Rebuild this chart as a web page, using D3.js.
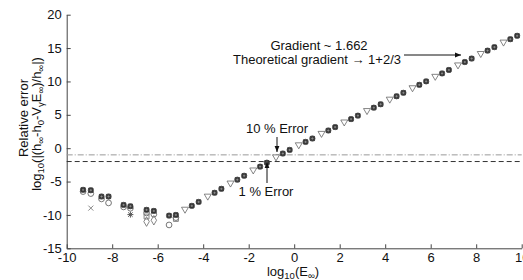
<!DOCTYPE html>
<html><head><meta charset="utf-8">
<script src="https://cdn.jsdelivr.net/npm/d3@7"></script>
<style>
html,body{margin:0;padding:0;background:#fff;}
svg{display:block;font-family:"Liberation Sans",Arial,sans-serif;}
</style></head>
<body><svg id="c" width="523" height="280"></svg>
<script>
// ---- data ----
const xTicks = [-10,-8,-6,-4,-2,0,2,4,6,8,10];
const yTicks = [-15,-10,-5,0,5,10,15,20];
// open down-triangles along the fitted line
const triX = [-4.8,-3.8,-2.8,-1.8,-0.8,0.2,1.2,2.2,3.2,4.2,5.2,6.2,7.2,8.2,9.2];
const triY = [-9.22,-7.26,-5.30,-3.34,-1.38,0.43,2.14,3.85,5.56,7.27,8.98,10.69,12.40,14.11,15.82];
// dark overlapping markers along the line
const darkX = [-4.5,-4.2,-3.5,-3.2,-2.5,-2.2,-1.5,-1.2,-0.5,-0.2,0.5,0.8,1.5,1.8,2.5,2.8,3.5,3.8,4.5,4.8,5.5,5.8,6.5,6.8,7.5,7.8,8.5,8.8,9.5,9.8];
const darkY = [-8.64,-8.05,-6.68,-6.09,-4.72,-4.13,-2.76,-2.17,-0.80,-0.26,0.94,1.45,2.65,3.16,4.36,4.88,6.07,6.58,7.78,8.30,9.49,10.01,11.20,11.72,12.91,13.43,14.62,15.14,16.33,16.84];
// low-energy cluster
const lowX = [-9.28,-8.94,-8.47,-8.16,-7.5,-7.2,-6.49,-6.17,-5.5,-5.2];
const lowDarkY = [-6.24,-6.3,-7.24,-7.24,-8.5,-8.7,-9.24,-9.4,-10.1,-10.0];
const lowCircleY = [-6.5,-6.8,-7.6,-8.2,-8.8,-9.0,-9.7,-9.9,-11.5,-10.4];
const squareX = [-6.49,-5.2];
const squareY = [-10.24,-10.6];
const diamondX = [-6.49,-6.17];
const diamondY = [-11.0,-10.8];
const crossX = [-8.94];
const crossY = [-8.98];
const starX = [-7.2];
const starY = [-9.95];
const hLines = [-1,-2];

// ---- layout ----
const svg = d3.select("#c");
const x = d3.scaleLinear().domain([-10,10]).range([66.7,521.7]);
const y = d3.scaleLinear().domain([-15,20]).range([248.3,14.7]);
const axisCol = "#444";
const fmt = d => String(d);
const FS = "13px";

// axes
const gx = svg.append("g").attr("transform","translate(0,"+y(-15)+")")
  .call(d3.axisBottom(x).tickValues(xTicks).tickFormat(fmt).tickSizeInner(-4).tickSizeOuter(0).tickPadding(4));
const gy = svg.append("g").attr("transform","translate("+x(-10)+",0)")
  .call(d3.axisLeft(y).tickValues(yTicks).tickFormat(fmt).tickSizeInner(-4).tickSizeOuter(0).tickPadding(5));
[gx,gy].forEach(g=>{
  g.selectAll("path").attr("stroke",axisCol);
  g.selectAll("line").attr("stroke",axisCol);
  g.selectAll("text").attr("fill","#111").style("font-size",FS).style("font-family","Liberation Sans, Arial, sans-serif");
});

// reference lines
svg.append("line").attr("x1",x(-10)).attr("x2",x(10)).attr("y1",y(hLines[0])).attr("y2",y(hLines[0]))
  .attr("stroke","#999").attr("stroke-width",1).attr("stroke-dasharray","6,2,1,2");
svg.append("line").attr("x1",x(-10)).attr("x2",x(10)).attr("y1",y(hLines[1])).attr("y2",y(hLines[1]))
  .attr("stroke","#333").attr("stroke-width",1).attr("stroke-dasharray","5,3");

const sym = (type,size)=>d3.symbol().type(type).size(size)();
const triDown = "M-3.5,-2.5L3.5,-2.5L0,3.5Z";

// low cluster open markers
svg.append("g").selectAll("path").data(d3.zip(lowX,lowCircleY)).join("path")
  .attr("transform",d=>`translate(${x(d[0])},${y(d[1])})`).attr("d",sym(d3.symbolCircle,26))
  .attr("fill","none").attr("stroke","#666").attr("stroke-width",0.9);
svg.append("g").selectAll("path").data(d3.zip(squareX,squareY)).join("path")
  .attr("transform",d=>`translate(${x(d[0])},${y(d[1])})`).attr("d",sym(d3.symbolSquare,24))
  .attr("fill","none").attr("stroke","#777").attr("stroke-width",0.9);
svg.append("g").selectAll("path").data(d3.zip(diamondX,diamondY)).join("path")
  .attr("transform",d=>`translate(${x(d[0])},${y(d[1])})`).attr("d",sym(d3.symbolDiamond,26))
  .attr("fill","none").attr("stroke","#777").attr("stroke-width",0.9);
svg.append("g").selectAll("path").data(d3.zip(crossX,crossY)).join("path")
  .attr("transform",d=>`translate(${x(d[0])},${y(d[1])})`).attr("d","M-2.5,-2.5L2.5,2.5M-2.5,2.5L2.5,-2.5")
  .attr("fill","none").attr("stroke","#888");
svg.append("g").selectAll("path").data(d3.zip(starX,starY)).join("path")
  .attr("transform",d=>`translate(${x(d[0])},${y(d[1])})`).attr("d","M-3,0L3,0M0,-3L0,3M-2.2,-2.2L2.2,2.2M-2.2,2.2L2.2,-2.2")
  .attr("fill","none").attr("stroke","#555");

// dark blobs (overlapping series)
function dark(g,pts){
  const s = g.selectAll("g").data(pts).join("g").attr("transform",d=>`translate(${x(d[0])},${y(d[1])})`);
  s.append("path").attr("d",sym(d3.symbolSquare,18)).attr("fill","#3a3a3a").attr("stroke","#222").attr("stroke-width",0.8);
  s.append("path").attr("d",sym(d3.symbolCircle,22)).attr("fill","none").attr("stroke","#444").attr("stroke-width",0.8);
  s.append("path").attr("d","M-1.2,0L1.2,0M0,-1.2L0,1.2").attr("stroke","#999").attr("stroke-width",0.7);
}
dark(svg.append("g"), d3.zip(lowX,lowDarkY));
dark(svg.append("g"), d3.zip(darkX,darkY));

// triangles
svg.append("g").selectAll("path").data(d3.zip(triX,triY)).join("path")
  .attr("transform",d=>`translate(${x(d[0])},${y(d[1])})`).attr("d",triDown)
  .attr("fill","#fff").attr("stroke","#666").attr("stroke-width",0.8);

// annotations
const ann = svg.append("g").style("font-size",FS).attr("fill","#111");
ann.append("text").attr("x",319).attr("y",50).attr("text-anchor","middle").text("Gradient ~ 1.662");
ann.append("text").attr("x",317).attr("y",64).attr("text-anchor","middle").text("Theoretical gradient \u2192 1+2/3");
svg.append("defs").append("marker").attr("id","ah").attr("viewBox","0 0 10 10").attr("refX",10).attr("refY",5)
  .attr("markerWidth",8).attr("markerHeight",6).attr("orient","auto-start-reverse")
  .append("path").attr("d","M0,1L10,5L0,9Z").attr("fill","#111");
svg.append("line").attr("x1",404).attr("y1",55).attr("x2",461).attr("y2",55).attr("stroke","#111").attr("marker-end","url(#ah)");
ann.append("text").attr("x",277).attr("y",133).attr("text-anchor","middle").text("10 % Error");
svg.append("line").attr("x1",277).attr("y1",137).attr("x2",277).attr("y2",152).attr("stroke","#111").attr("marker-end","url(#ah)");
ann.append("text").attr("x",266).attr("y",196).attr("text-anchor","middle").text("1 % Error");
svg.append("line").attr("x1",267).attr("y1",183).attr("x2",267).attr("y2",162).attr("stroke","#111").attr("marker-end","url(#ah)");

// axis labels
const xl = svg.append("text").attr("x",293).attr("y",276).attr("text-anchor","middle").style("font-size",FS).attr("fill","#111");
xl.append("tspan").text("log");
xl.append("tspan").attr("dy",3).style("font-size","9.5px").text("10");
xl.append("tspan").attr("dy",-3).text("(E");
xl.append("tspan").attr("dy",3).style("font-size","9.5px").text("\u221E");
xl.append("tspan").attr("dy",-3).text(")");

const yl = svg.append("g").attr("transform","translate(28,118) rotate(-90)").style("font-size",FS).attr("fill","#111");
yl.append("text").attr("x",0).attr("y",0).attr("text-anchor","middle").text("Relative error");
const t2 = yl.append("text").attr("x",-6).attr("y",13).attr("text-anchor","middle");
const parts = [["log",0],["10",1],["(|(h",0],["\u221E",1],["-h",0],["0",1],["-V",0],["\u03B3",1],["E",0],["\u221E",1],[")/h",0],["\u221E",1],["|)",0]];
let prev=0;
parts.forEach(([t,sub])=>{
  const dy = (sub?3:0)-prev; prev = sub?3:0;
  t2.append("tspan").attr("dy",dy).style("font-size",sub?"9.5px":FS).text(t);
});
</script></body></html>
